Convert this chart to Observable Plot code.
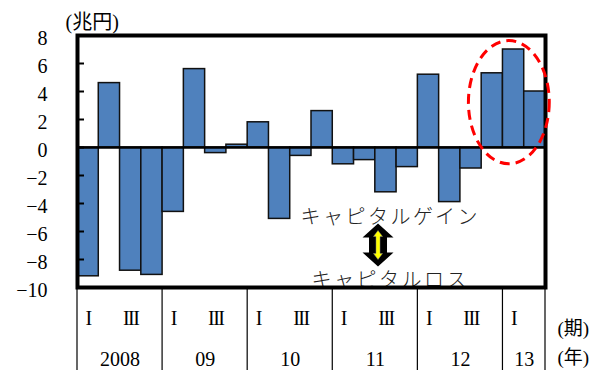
<!DOCTYPE html>
<html>
<head>
<meta charset="utf-8">
<script src="https://cdn.jsdelivr.net/npm/d3@7"></script>
<script src="https://cdn.jsdelivr.net/npm/@observablehq/plot@0.6"></script>
<style>
  body { margin: 0; background: #fff; }
  svg text { font-family: 'Liberation Serif', 'DejaVu Serif', 'Noto Sans CJK JP', serif; }
  svg .roman text { letter-spacing: -1.5px; }
  svg .note text { font-family: 'Noto Sans CJK JP', sans-serif; letter-spacing: 2.5px; font-weight: 300; }
</style>
</head>
<body>
<div id="chart"></div>
<script>
// Quarterly capital gains/losses (trillion yen), 2008 Q1 – 2013 Q2
const years = ["2008", "09", "10", "11", "12", "13"];
const quartersInYear = [4, 4, 4, 4, 4, 2];
const quarterNames = ["I", "", "III", ""];
const gains = [-9.2, 4.6, -8.8, -9.1, -4.6, 5.6, -0.4, 0.2, 1.8, -5.1, -0.6, 2.6,
               -1.2, -0.9, -3.2, -1.4, 5.2, -3.9, -1.5, 5.3, 7.0, 4.0];
const yTicks = [8, 6, 4, 2, 0, -2, -4, -6, -8, -10];
const unitLabel = "(兆円)";
const periodLabel = "(期)";
const yearLabel = "(年)";
const gainLabel = "キャピタルゲイン";
const lossLabel = "キャピタルロス";

// Annotation anchors, in data units (bar index, trillion yen)
const gainNote = {x: 14.7, y: -5.0};
const lossNote = {x: 14.7, y: -9.5};
const arrowAt = {x: 14.15, y: -7.0};
const highlight = {x: 20.3, y: 3.2, rx: 1.9, ry: 4.4};

const rows = [];
const groups = [];
years.forEach((year, k) => {
  const start = rows.length;
  for (let q = 0; q < quartersInYear[k]; q++) {
    const i = rows.length;
    rows.push({i, year, quarter: quarterNames[q], value: gains[i]});
  }
  groups.push({year, start, end: rows.length});
});
const boundaries = [0, ...groups.map(g => g.end)];

const serif = "'Liberation Serif', 'DejaVu Serif', 'Noto Sans CJK JP', serif";
const jp = "'Noto Sans CJK JP', sans-serif";
const fmt = d => (d < 0 ? "\u2212" : "") + Math.abs(d);

// Vertical separators of the period/year table under the plot
const tableLines = (index, {x}, values, {height, marginBottom}) => {
  const g = d3.create("svg:g").attr("stroke", "#000").attr("stroke-width", 1.2);
  for (const b of boundaries) {
    g.append("line")
      .attr("x1", x(b)).attr("x2", x(b))
      .attr("y1", height - marginBottom).attr("y2", height);
  }
  return g.node();
};

// Dashed ellipse around the latest quarters
const ellipse = (index, {x, y}) => {
  const cx = x(highlight.x), cy = y(highlight.y);
  return d3.create("svg:ellipse")
    .attr("cx", cx).attr("cy", cy)
    .attr("rx", x(highlight.x + highlight.rx) - cx)
    .attr("ry", y(highlight.y - highlight.ry) - cy)
    .attr("fill", "none").attr("stroke", "#FF0000")
    .attr("stroke-width", 3).attr("stroke-dasharray", "10 6")
    .node();
};

// Double-headed arrow between the gain and loss labels
const arrow = (index, {x, y}) => {
  const outer = "M0,-21.5L15.5,-7.5L9,-7.5L9,7.5L15.5,7.5L0,21.5L-15.5,7.5L-9,7.5L-9,-7.5L-15.5,-7.5Z";
  const inner = "M0,-14.5L4.5,-8.5L2,-8.5L2,8.5L4.5,8.5L0,14.5L-4.5,8.5L-2,8.5L-2,-8.5L-4.5,-8.5Z";
  const g = d3.create("svg:g").attr("transform", `translate(${x(arrowAt.x)},${y(arrowAt.y)})`);
  g.append("path").attr("d", outer).attr("fill", "#000");
  g.append("path").attr("d", inner).attr("fill", "#FFFF00").attr("stroke", "#888").attr("stroke-width", 0.5);
  return g.node();
};

const chart = Plot.plot({
  width: 598,
  height: 370,
  marginLeft: 77,
  marginRight: 53,
  marginTop: 35,
  marginBottom: 83,
  style: {fontFamily: serif, fontSize: "20px", color: "#000", background: "#fff"},
  x: {domain: [0, rows.length], axis: null},
  y: {domain: [-10, 8], axis: null},
  marks: [
    Plot.rect(rows, {x1: "i", x2: d => d.i + 1, y1: 0, y2: "value",
      fill: "#4F81BD", stroke: "#111", strokeWidth: 1.5}),
    Plot.text([gainLabel], {x: gainNote.x, y: gainNote.y, text: d => d,
      fontFamily: jp, fontSize: 20, fill: "#222", className: "note"}),
    Plot.text([lossLabel], {x: lossNote.x, y: lossNote.y, text: d => d,
      fontFamily: jp, fontSize: 20, fill: "#222", className: "note"}),
    arrow,
    Plot.ruleY([0], {stroke: "#000", strokeWidth: 2.5}),
    // value labels and inward ticks on the left edge
    Plot.text(yTicks, {y: d => d, text: fmt, frameAnchor: "left", textAnchor: "end",
      dx: -30, dy: 3, fontSize: 20, fontFamily: serif}),
    Plot.axisY(yTicks, {tickSize: -7, fill: "none", strokeWidth: 2, label: null}),
    Plot.frame({stroke: "#000", strokeWidth: 4}),
    tableLines,
    Plot.text(rows.filter(d => d.quarter), {x: d => d.i + 0.5, text: "quarter",
      frameAnchor: "bottom", lineAnchor: "middle", dy: 31, fontSize: 20,
      fontFamily: serif, className: "roman"}),
    Plot.text(groups, {x: d => (d.start + d.end) / 2, text: "year",
      frameAnchor: "bottom", lineAnchor: "middle", dy: 72, fontSize: 20, fontFamily: serif}),
    Plot.text([unitLabel], {frameAnchor: "top-left", lineAnchor: "middle", text: d => d,
      textAnchor: "start", dx: -12, dy: -13, fontSize: 20, fontFamily: serif}),
    Plot.text([periodLabel], {frameAnchor: "bottom-right", lineAnchor: "middle", text: d => d,
      textAnchor: "start", dx: 12, dy: 41, fontSize: 19, fontFamily: serif}),
    Plot.text([yearLabel], {frameAnchor: "bottom-right", lineAnchor: "middle", text: d => d,
      textAnchor: "start", dx: 12, dy: 70, fontSize: 19, fontFamily: serif}),
    ellipse
  ]
});

document.getElementById("chart").append(chart);
</script>
</body>
</html>
